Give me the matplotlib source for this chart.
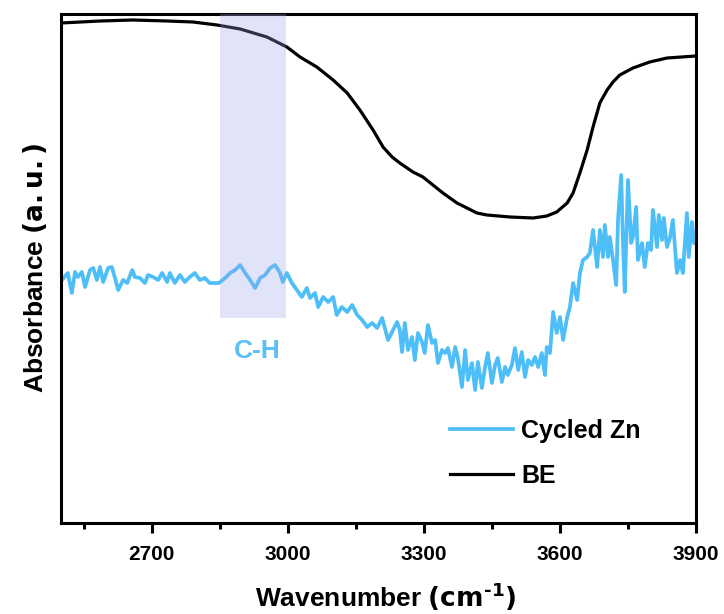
import matplotlib
matplotlib.use("Agg")
import matplotlib.pyplot as plt
from matplotlib.ticker import FixedLocator

plt.rcParams['font.family'] = ['Liberation Sans', 'DejaVu Sans']
plt.rcParams['mathtext.fontset'] = 'custom'
plt.rcParams['mathtext.rm'] = 'DejaVu Sans:bold'
plt.rcParams['mathtext.bf'] = 'DejaVu Sans:bold'

# ---- data (absorbance, arbitrary units) ----
be_wn = [2500, 2586, 2659, 2734, 2791, 2844, 2895, 2954, 2998, 3027, 3064, 3100, 3131,
         3159, 3188, 3210, 3230, 3247, 3276, 3298, 3320, 3342, 3373, 3395, 3417, 3439,
         3490, 3541, 3571, 3593, 3616, 3629, 3644, 3660, 3673, 3688, 3704, 3717, 3732,
         3761, 3798, 3836, 3900]
be_abs = [500, 502, 503, 502, 501, 498, 494, 486, 476, 466, 456, 443, 430,
          413, 393, 376, 366, 360, 351, 346, 338, 330, 320, 315, 310, 308,
          306, 305, 307, 311, 320, 330, 350, 373, 396, 420, 433, 441, 448,
          455, 461, 465, 467]

zn_wn = [2504, 2515, 2524, 2531, 2537, 2546, 2553, 2564, 2571, 2579, 2586, 2593, 2604,
         2612, 2619, 2626, 2637, 2646, 2657, 2663, 2674, 2685, 2692, 2703, 2714, 2723,
         2734, 2740, 2751, 2762, 2773, 2784, 2795, 2806, 2817, 2828, 2840, 2848, 2851,
         2862, 2873, 2884, 2895, 2906, 2917, 2928, 2939, 2950, 2961, 2972, 2983, 2989,
         2998, 3009, 3020, 3031, 3042, 3049, 3060, 3067, 3078, 3089, 3100, 3108, 3119,
         3131, 3142, 3153, 3164, 3175, 3186, 3197, 3208, 3214, 3221, 3232, 3241, 3247,
         3252, 3258, 3265, 3274, 3280, 3287, 3296, 3302, 3309, 3318, 3325, 3331, 3340,
         3347, 3353, 3362, 3369, 3375, 3384, 3391, 3397, 3406, 3413, 3419, 3428, 3435,
         3441, 3450, 3457, 3463, 3472, 3479, 3485, 3494, 3501, 3508, 3516, 3523, 3530,
         3538, 3545, 3552, 3560, 3567, 3571, 3578, 3585, 3593, 3600, 3607, 3616, 3622,
         3629, 3638, 3644, 3651, 3660, 3666, 3673, 3682, 3688, 3695, 3699, 3706, 3710,
         3717, 3724, 3728, 3735, 3739, 3743, 3750, 3757, 3761, 3768, 3772, 3781, 3787,
         3794, 3801, 3805, 3814, 3818, 3825, 3829, 3836, 3843, 3849, 3858, 3865, 3871,
         3880, 3884, 3891, 3896]
zn_abs = [244, 250, 230, 251, 246, 251, 236, 253, 255, 243, 256, 241, 255,
          256, 245, 233, 243, 240, 253, 246, 245, 240, 248, 246, 243, 250,
          241, 250, 240, 248, 241, 246, 250, 243, 245, 240, 240, 240, 241,
          245, 250, 253, 258, 250, 243, 235, 245, 248, 255, 258, 250, 241,
          250, 240, 233, 226, 235, 225, 230, 216, 226, 221, 226, 208, 216,
          211, 218, 208, 203, 196, 200, 195, 205, 195, 183, 193, 201, 193,
          171, 200, 173, 186, 163, 190, 181, 170, 198, 180, 183, 160, 173,
          170, 175, 156, 176, 165, 136, 173, 143, 160, 133, 161, 135, 156,
          170, 140, 158, 165, 141, 156, 148, 158, 175, 153, 171, 146, 163,
          158, 166, 156, 170, 148, 176, 170, 211, 190, 206, 183, 206, 216,
          240, 223, 250, 263, 266, 270, 293, 256, 293, 266, 298, 266, 286,
          263, 238, 303, 348, 280, 231, 343, 280, 286, 316, 263, 280, 256,
          280, 273, 313, 276, 308, 283, 305, 276, 286, 303, 250, 263, 250,
          310, 266, 301, 280]

shade_range = (2850, 2995)
shade_bottom = 205
x_ticks = [2700, 3000, 3300, 3600, 3900]
x_minor = [2550, 2850, 3150, 3450, 3750]
x_range = (2500, 3900)
y_range = (0, 509)

BLUE = '#4dbef7'
W, H = 724, 614

fig = plt.figure(figsize=(W / 100, H / 100), dpi=100)
ax = fig.add_axes([61 / W, 91 / H, 635 / W, 509 / H])

ax.plot(zn_wn, zn_abs, color=BLUE, lw=2.7, label='Cycled Zn', zorder=2)
ax.plot(be_wn, be_abs, color='black', lw=2.3, label='BE', zorder=2)

ax.fill_between(shade_range, shade_bottom, y_range[1], color=(158 / 255, 168 / 255, 238 / 255),
                alpha=0.3, lw=0, zorder=3)

ax.text(2932, 165, 'C-H', color='#5bc0f8', fontsize=19, fontweight='bold',
        ha='center', va='baseline')

ax.set_xlim(*x_range)
ax.set_ylim(*y_range)
ax.xaxis.set_major_locator(FixedLocator(x_ticks))
ax.xaxis.set_minor_locator(FixedLocator(x_minor))
ax.set_yticks([])
ax.tick_params(axis='x', which='major', direction='out', length=7.5, width=2.2,
               labelsize=15, pad=8.5)
ax.tick_params(axis='x', which='minor', direction='out', length=4, width=2.2)
for lab in ax.get_xticklabels():
    lab.set_fontweight('bold')
for sp in ax.spines.values():
    sp.set_linewidth(2.2)

fig.text(255 / W, 1 - 607 / H, r'Wavenumber $\mathbf{(cm^{\text{-}1})}$', fontsize=19,
         fontweight='bold', ha='left', va='baseline')
fig.text(43 / W, 1 - 393 / H, r'Absorbance $\mathbf{(a.u.)}$', fontsize=19,
         fontweight='bold', rotation=90, rotation_mode='anchor', ha='left', va='baseline')

leg = ax.legend(loc='upper left', bbox_to_anchor=((450 - 61) / 635, (523 - 419) / 509),
                frameon=False, prop={'weight': 'bold', 'size': 18}, handlelength=2.5,
                labelspacing=0.83, handletextpad=0.35, borderpad=0, borderaxespad=0)

fig.savefig('out.png', dpi=100)
